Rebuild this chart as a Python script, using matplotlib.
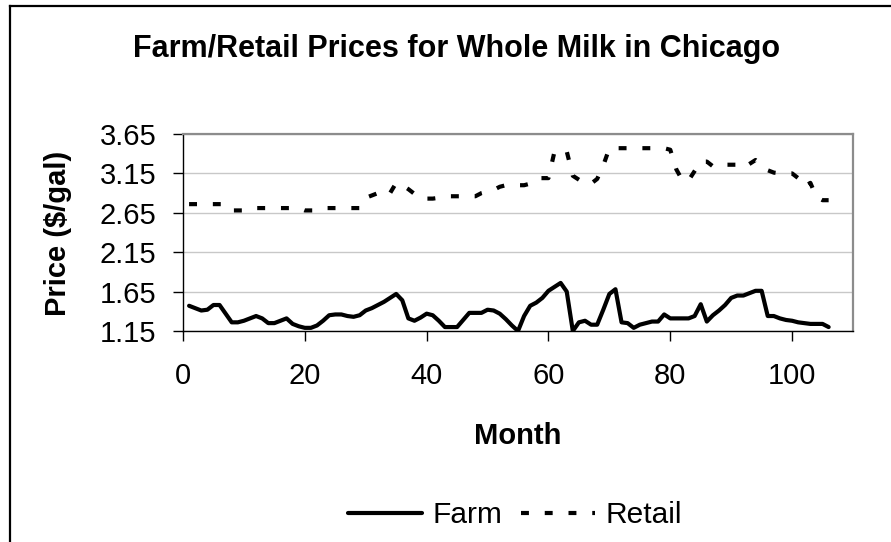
import matplotlib
matplotlib.use("Agg")
import matplotlib.pyplot as plt
from matplotlib.lines import Line2D

plt.rcParams["font.family"] = ["Liberation Sans", "DejaVu Sans"]

# ── Data ──────────────────────────────────────────────────
months = list(range(1, 107))

farm = [
    1.47, 1.44, 1.41, 1.42, 1.48, 1.48, 1.37, 1.26, 1.26, 1.28,
    1.31, 1.34, 1.31, 1.25, 1.25, 1.28, 1.31, 1.24, 1.21, 1.19,
    1.19, 1.22, 1.28, 1.35, 1.36, 1.36, 1.34, 1.33, 1.35, 1.41,
    1.44, 1.48, 1.52, 1.57, 1.62, 1.54, 1.31, 1.28, 1.32, 1.37,
    1.35, 1.28, 1.20, 1.20, 1.20, 1.29, 1.38, 1.38, 1.38, 1.42,
    1.41, 1.37, 1.30, 1.22, 1.15, 1.34, 1.47, 1.51, 1.57, 1.66,
    1.71, 1.76, 1.65, 1.15, 1.26, 1.28, 1.23, 1.23, 1.42, 1.62,
    1.68, 1.26, 1.25, 1.19, 1.23, 1.25, 1.27, 1.27, 1.36, 1.31,
    1.31, 1.31, 1.31, 1.34, 1.49, 1.27, 1.35, 1.41, 1.48, 1.57,
    1.60, 1.60, 1.63, 1.66, 1.66, 1.34, 1.34, 1.31, 1.29, 1.28,
    1.26, 1.25, 1.24, 1.24, 1.24, 1.20,
]

retail = [
    2.76, 2.76, 2.76, 2.76, 2.76, 2.76, 2.76, 2.68, 2.68, 2.68,
    2.68, 2.71, 2.71, 2.71, 2.71, 2.71, 2.71, 2.71, 2.71, 2.68,
    2.68, 2.68, 2.71, 2.71, 2.71, 2.71, 2.71, 2.71, 2.71, 2.84,
    2.87, 2.90, 2.86, 2.90, 3.03, 3.00, 2.95, 2.89, 2.83, 2.83,
    2.83, 2.84, 2.86, 2.86, 2.86, 2.86, 2.86, 2.86, 2.90, 2.92,
    2.94, 2.98, 3.00, 3.00, 3.00, 3.00, 3.02, 3.09, 3.09, 3.09,
    3.43, 3.43, 3.43, 3.12, 3.07, 3.02, 3.02, 3.08, 3.25, 3.47,
    3.47, 3.47, 3.47, 3.47, 3.47, 3.47, 3.47, 3.47, 3.47, 3.45,
    3.20, 3.06, 3.06, 3.18, 3.30, 3.30, 3.24, 3.23, 3.26, 3.26,
    3.26, 3.22, 3.27, 3.32, 3.26, 3.19, 3.16, 3.15, 3.15, 3.15,
    3.09, 2.98, 3.03, 2.85, 2.81, 2.81,
]

y_ticks = [1.15, 1.65, 2.15, 2.65, 3.15, 3.65]
x_ticks = [0, 20, 40, 60, 80, 100]

# ── Figure ────────────────────────────────────────────────
W, H = 891, 542
fig = plt.figure(figsize=(W / 100, H / 100), dpi=100)
fig.patch.set_facecolor("white")

# chart-area frame (only left and top edges fall inside the picture)
fig.add_artist(Line2D([10 / W, 10 / W], [0, 1 - 6 / H], transform=fig.transFigure,
                      color="black", lw=1.6))
fig.add_artist(Line2D([10 / W, 1], [1 - 6 / H, 1 - 6 / H], transform=fig.transFigure,
                      color="black", lw=1.6))

ax = fig.add_axes([183 / W, 1 - 331 / H, (853 - 183) / W, (331 - 134) / H])

ax.plot(months, farm, color="black", lw=3.0, solid_joinstyle="round",
        solid_capstyle="round", label="Farm")
ax.plot(months, retail, color="black", lw=3.0, dashes=(1.9, 3.8),
        dash_capstyle="butt", label="Retail")

ax.set_xlim(0, 110)
ax.set_ylim(1.15, 3.65)
ax.set_xticks(x_ticks)
ax.set_yticks(y_ticks)
ax.set_yticklabels([f"{v:.2f}" for v in y_ticks])

ax.grid(axis="y", color="#c8c8c8", lw=1.0)
ax.set_axisbelow(True)
for side in ["top", "right"]:
    ax.spines[side].set_color("#8c8c8c")
    ax.spines[side].set_linewidth(1.6)
for side in ["left", "bottom"]:
    ax.spines[side].set_color("black")
    ax.spines[side].set_linewidth(1.0)

ax.tick_params(axis="both", direction="out", length=7, width=1.0,
               labelsize=21, colors="black")
ax.tick_params(axis="x", pad=15)
ax.tick_params(axis="y", pad=12)

# ── Text ──────────────────────────────────────────────────
fig.text(457 / W, 1 - 57 / H, "Farm/Retail Prices for Whole Milk in Chicago",
         ha="center", va="baseline", fontsize=22, fontweight="bold")
fig.text(518 / W, 1 - 444 / H, "Month", ha="center", va="baseline",
         fontsize=21, fontweight="bold")
fig.text(58.5 / W, 1 - 233.5 / H, "Price ($/gal)", ha="center", va="center",
         rotation=90, fontsize=21, fontweight="bold")

fig.legend(loc="center", bbox_to_anchor=(515 / W, 1 - 515 / H), ncol=2,
           frameon=False, fontsize=21.5, handlelength=2.5,
           handletextpad=0.35, columnspacing=0.6, borderaxespad=0)

plt.savefig("out.png", dpi=100)
plt.close()
